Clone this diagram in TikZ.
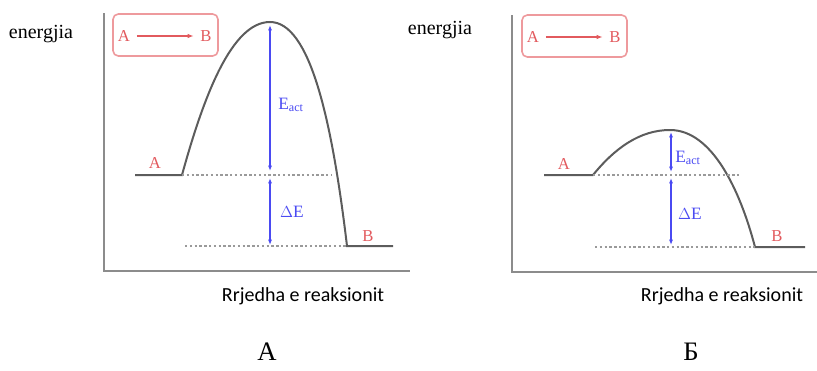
\documentclass[tikz,border=0pt]{standalone}
\usepackage{fontspec}
\setmainfont{Liberation Serif}
\newfontfamily\axisfont{Carlito}
\usetikzlibrary{arrows.meta}

\definecolor{axisgray}{HTML}{8C8C8C}
\definecolor{curvegray}{HTML}{5C5C5C}
\definecolor{guidegray}{HTML}{9A9A9A}
\definecolor{speciesred}{HTML}{E25A5E}
\definecolor{boxred}{HTML}{EE9A9D}
\definecolor{gapblue}{HTML}{4A4AF2}

\tikzset{
  axis/.style={draw=axisgray, line width=1.5pt},
  profile/.style={draw=curvegray, line width=1.5pt},
  guide/.style={draw=guidegray, line width=1.2pt, dash pattern=on 1.8pt off 1.8pt},
  gap/.style={draw=gapblue, line width=0.8pt, {Latex[length=4pt,width=3pt]}-{Latex[length=4pt,width=3pt]}},
  legendbox/.style={draw=boxred, line width=1.2pt, rounded corners=4pt},
  legendarrow/.style={draw=speciesred, line width=0.8pt, shorten <=5pt, shorten >=5pt, -{Latex[length=4.5pt,width=3.5pt]}},
  species/.style={text=speciesred, font=\fontsize{12.5}{14}\selectfont, inner sep=0pt},
  gaplabel/.style={text=gapblue, font=\fontsize{13}{15}\selectfont, inner sep=0pt},
  ylabel/.style={font=\fontsize{15}{17}\selectfont, inner sep=0pt},
  xlabel/.style={font=\axisfont\fontsize{15}{17}\selectfont, inner sep=0pt},
  panel/.style={font=\fontsize{20}{22}\selectfont, inner sep=0pt},
}

\begin{document}
\begin{tikzpicture}[x=0.75pt, y=-0.75pt]
  \useasboundingbox (0,0) rectangle (817,371);

  % left panel: high barrier
  \node [ylabel] at (41,34) (ylab1) {energjia};
  \draw [axis] (104,13) -- (104,271) -- (410,271);
  \draw [legendbox] (113,14) rectangle (218,56);
  \node [species] at (124,36) (legA1) {A};
  \node [species] at (206,36) (legB1) {B};
  \draw [legendarrow] (legA1) -- (legB1);

  \coordinate (a1s) at (135,175);
  \coordinate (a1e) at (182,175);
  \coordinate (top1) at (270,22);
  \coordinate (b1s) at (347,246);
  \coordinate (b1e) at (393,246);
  \draw [profile] (a1s) -- (a1e) .. controls (204,95) and (232,22) .. (top1)
        .. controls (310,22) and (332,120) .. (b1s) -- (b1e);
  \draw [guide] (a1e) -- (331,175);
  \draw [guide] (185,246) -- (b1s);

  \coordinate (e1t) at (270,25);
  \coordinate (e1b) at (270,171);
  \coordinate (d1t) at (270,178);
  \coordinate (d1b) at (270,245);
  \draw [gap] (e1t) -- (e1b);
  \draw [gap] (d1t) -- (d1b);
  \node [gaplabel] at (291,105) (ea1) {E\textsubscript{act}};
  \node [gaplabel] at (292,212) (de1) {$\Delta$E};
  \node [species] at (155,163) (A1) {A};
  \node [species] at (368,236) (B1) {B};

  \node [xlabel] at (303,296) (xlab1) {Rrjedha e reaksionit};
  \node [panel] at (267,352) (pA) {А};

  % right panel: low barrier
  \node [ylabel] at (440,30) (ylab2) {energjia};
  \draw [axis] (512,15) -- (512,272) -- (817,272);
  \draw [legendbox] (522,15) rectangle (627,57);
  \node [species] at (533,37) (legA2) {A};
  \node [species] at (615,37) (legB2) {B};
  \draw [legendarrow] (legA2) -- (legB2);

  \coordinate (a2s) at (544,175);
  \coordinate (a2e) at (593,175);
  \coordinate (top2) at (670,130);
  \coordinate (b2s) at (755,247);
  \coordinate (b2e) at (805,247);
  \draw [profile] (a2s) -- (a2e) .. controls (615,148) and (640,130) .. (top2)
        .. controls (712,130) and (740,190) .. (b2s) -- (b2e);
  \draw [guide] (a2e) -- (739,175);
  \draw [guide] (595,247) -- (b2s);

  \coordinate (e2t) at (671,132);
  \coordinate (e2b) at (671,172);
  \coordinate (d2t) at (671,178);
  \coordinate (d2b) at (671,245);
  \draw [gap] (e2t) -- (e2b);
  \draw [gap] (d2t) -- (d2b);
  \node [gaplabel] at (688,158) (ea2) {E\textsubscript{act}};
  \node [gaplabel] at (690,214) (de2) {$\Delta$E};
  \node [species] at (564,164) (A2) {A};
  \node [species] at (777,236) (B2) {B};

  \node [xlabel] at (722,296) (xlab2) {Rrjedha e reaksionit};
  \node [panel] at (691,352) (pB) {Б};
\end{tikzpicture}
\end{document}
